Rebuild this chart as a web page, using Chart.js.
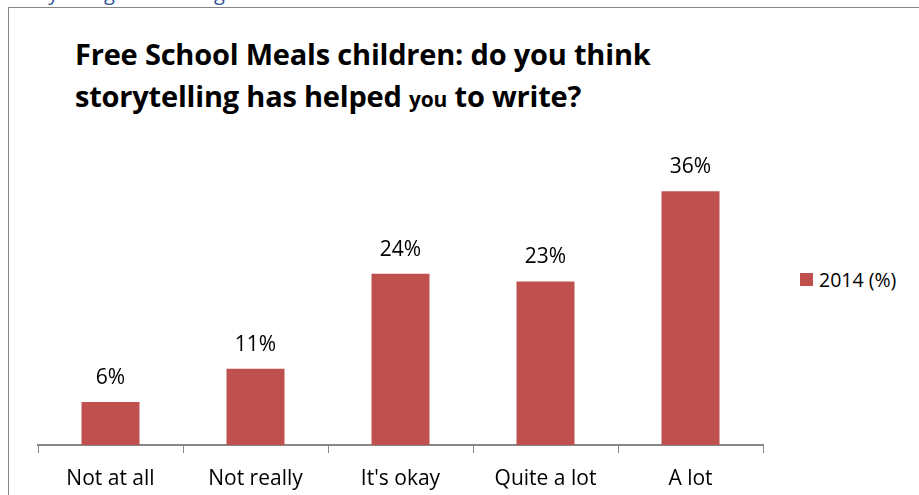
<!DOCTYPE html>
<html>
<head>
<meta charset="utf-8">
<script src="https://cdn.jsdelivr.net/npm/chart.js@4.4.1/dist/chart.umd.min.js"></script>
<style>
  html, body { margin: 0; padding: 0; background: #fff; }
  #wrap { position: relative; width: 919px; height: 495px; overflow: hidden; font-family: 'Open Sans', sans-serif; }
  #pageText { position: absolute; left: 10px; top: -21px; font-size: 20px; color: #2f5597; white-space: nowrap; }
  #frame { position: absolute; left: 8px; top: 7px; width: 930px; height: 500px; border-left: 1px solid #868686; border-top: 1px solid #868686; background: #fff; }
  #title { position: absolute; left: 75px; top: 33px; font-size: 29px; font-weight: bold; line-height: 42px; color: #000; letter-spacing: -0.2px; }
  #title .small { font-size: 21px; }
  #legend { position: absolute; left: 800px; top: 266px; font-size: 19.5px; color: #000; display: flex; align-items: center; }
  #legend .box { width: 13px; height: 13px; background: #C0504D; margin-right: 6px; }
  canvas { position: absolute; left: 0; top: 0; }
</style>
</head>
<body>
<div id="wrap">
  <div id="pageText">Storytelling and writing</div>
  <div id="frame"></div>
  <div id="title">Free School Meals children: do you think<br>storytelling has helped <span class="small">you</span> to write?</div>
  <div id="legend"><span class="box"></span><span id="legendLabel"></span></div>
  <canvas id="chart" width="919" height="495"></canvas>
</div>
<script>
// Chart data
const categories = ['Not at all', 'Not really', "It's okay", 'Quite a lot', 'A lot'];
const seriesName = '2014 (%)';
const values = [0.061, 0.108, 0.243, 0.232, 0.36];
const valueLabels = ['6%', '11%', '24%', '23%', '36%'];

document.getElementById('legendLabel').textContent = seriesName;

/**
 * Draws the percentage above each bar
 */
const barValueLabels = {
  id: 'barValueLabels',
  afterDatasetsDraw(chart) {
    const ctx = chart.ctx;
    const meta = chart.getDatasetMeta(0);
    ctx.save();
    ctx.font = '21px "Open Sans", sans-serif';
    ctx.fillStyle = '#000';
    ctx.textAlign = 'center';
    ctx.textBaseline = 'middle';
    meta.data.forEach((bar, i) => {
      ctx.fillText(valueLabels[i], bar.x, bar.y - 24);
    });
    ctx.restore();
  }
};

new Chart(document.getElementById('chart'), {
  type: 'bar',
  data: {
    labels: categories,
    datasets: [{
      label: seriesName,
      data: values,
      backgroundColor: '#C0504D',
      borderWidth: 0,
      categoryPercentage: 1.0,
      barPercentage: 0.4
    }]
  },
  options: {
    responsive: false,
    animation: false,
    devicePixelRatio: 1,
    layout: {
      padding: { left: 38, right: 156, top: 163, bottom: 0 }
    },
    plugins: {
      legend: { display: false },
      title: { display: false },
      tooltip: { enabled: false }
    },
    scales: {
      x: {
        afterFit: function(axis) { axis.height = 50; },
        grid: {
          display: true,
          offset: true,
          drawOnChartArea: false,
          drawTicks: true,
          tickLength: 8,
          color: '#868686',
          lineWidth: 1
        },
        border: { display: true, color: '#868686', width: 2 },
        ticks: {
          color: '#000',
          padding: 13,
          maxRotation: 0,
          font: { family: "'Open Sans', sans-serif", size: 21 }
        }
      },
      y: {
        display: false,
        min: 0,
        max: 0.40
      }
    }
  },
  plugins: [barValueLabels]
});
</script>
</body>
</html>
